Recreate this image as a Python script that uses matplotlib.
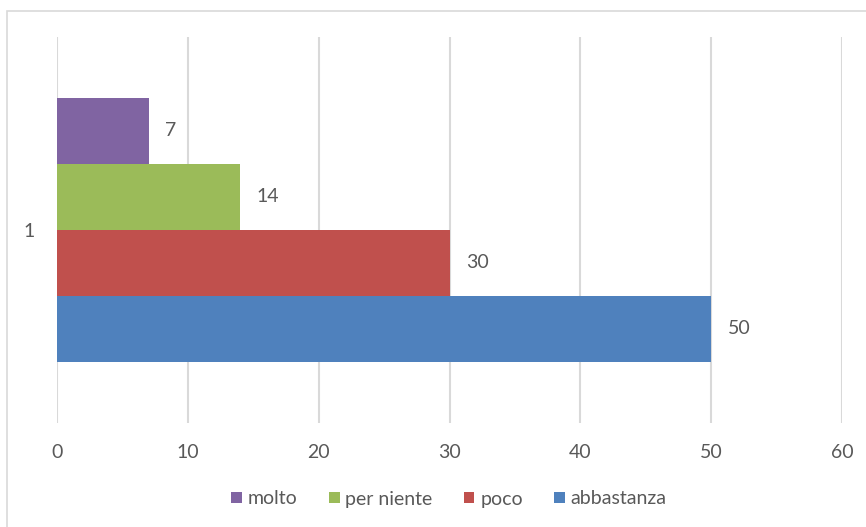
import matplotlib
matplotlib.use("Agg")
from matplotlib import pyplot as plt
from matplotlib.patches import Rectangle

# data
categories = ["molto", "per niente", "poco", "abbastanza"]
values = [7, 14, 30, 50]
colors = ["#8064A2", "#9BBB59", "#C0504D", "#4F81BD"]
xticks = [0, 10, 20, 30, 40, 50, 60]
ylabel_text = "1"

plt.rcParams['font.family'] = ['Lato', 'DejaVu Sans']
txt = "#595959"
grid = "#d9d9d9"

fig = plt.figure(figsize=(8.66, 5.27), dpi=100)
W, H = 866, 527

# chart frame (cropped on the right and bottom)
fig.patches.append(Rectangle((7.5 / W, -0.1), 1.2, 1 - 10.5 / H + 0.1,
                             transform=fig.transFigure, fill=False,
                             edgecolor=grid, linewidth=1.2, zorder=0))

ax = fig.add_axes([57 / W, 1 - 423 / H, (842 - 57) / W, (423 - 37) / H])

# bars stacked inside the single category, first series on top
n = len(values)
pos = [(n - 1) / 2 - i for i in range(n)]
for p, v, c, lab in zip(pos, values, colors, categories):
    ax.barh(p, v, height=1.0, color=c, label=lab, zorder=2)
    ax.annotate(str(v), (v, p), xytext=(12, 0), textcoords="offset points",
                va="center", ha="left", fontsize=14, color=txt)

half = (423 - 37) / 66 / 2
ax.set_ylim(-half, half)
ax.set_xlim(xticks[0], xticks[-1])
ax.set_xticks(xticks)
ax.set_yticks([0])
ax.set_yticklabels([ylabel_text])
ax.tick_params(axis="x", length=0, pad=15, labelsize=14, labelcolor=txt)
ax.tick_params(axis="y", length=0, pad=16, labelsize=14, labelcolor=txt)
ax.grid(axis="x", color=grid, linewidth=1.5, zorder=0)
for s in ax.spines.values():
    s.set_visible(False)

handles, labels = ax.get_legend_handles_labels()
fig.legend(handles, labels, loc="center", bbox_to_anchor=(449 / W, 1 - 499 / H),
           ncol=4, frameon=False, fontsize=14, labelcolor=txt,
           handlelength=0.55, handleheight=0.55, handletextpad=0.3,
           columnspacing=1.6)

fig.savefig("out.png", dpi=100)
